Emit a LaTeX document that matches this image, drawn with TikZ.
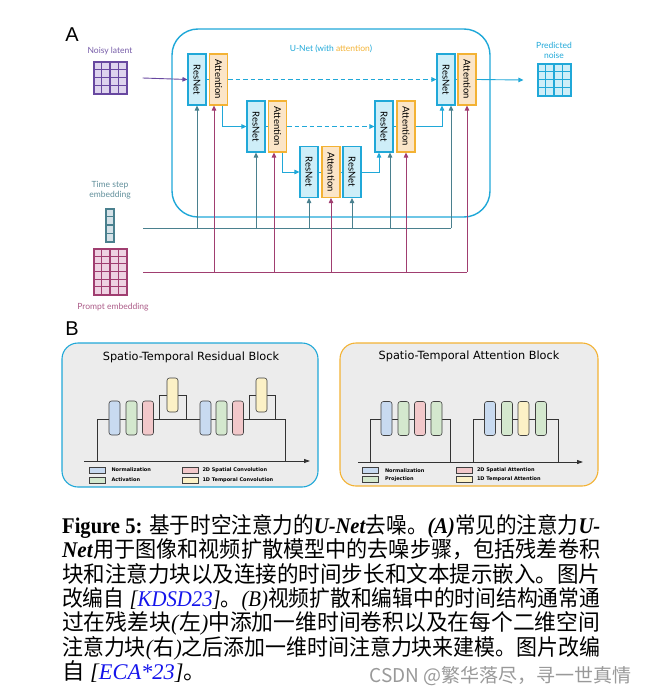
\documentclass[tikz,border=0pt]{standalone}
\usepackage{fontspec}
\setmainfont{Liberation Serif}
\newfontfamily\cjk{Noto Sans CJK SC}
\newfontfamily\latofont{Lato}
\newfontfamily\dejavu{DejaVu Sans}
\newfontfamily\panelfont{Liberation Sans}
\usetikzlibrary{arrows.meta,positioning,calc}
\definecolor{unetC}{RGB}{32,168,216}
\definecolor{resF}{RGB}{206,238,248}
\definecolor{attO}{RGB}{243,178,52}
\definecolor{attF}{RGB}{251,229,200}
\definecolor{latP}{RGB}{104,72,160}
\definecolor{latF}{RGB}{222,212,238}
\definecolor{latT}{RGB}{118,92,168}
\definecolor{timeT}{RGB}{74,128,142}
\definecolor{timeF}{RGB}{214,226,232}
\definecolor{timeL}{RGB}{96,142,154}
\definecolor{promM}{RGB}{160,62,112}
\definecolor{promF}{RGB}{238,210,226}
\definecolor{promL}{RGB}{172,92,136}
\definecolor{normB}{RGB}{200,218,240}
\definecolor{actG}{RGB}{212,232,206}
\definecolor{spaR}{RGB}{242,200,202}
\definecolor{tmpY}{RGB}{252,241,198}
\definecolor{panelG}{RGB}{236,236,236}
\definecolor{citeB}{RGB}{20,20,235}
\newcommand\zh[1]{{\cjk #1}}
\newcommand\capfit[1]{\resizebox{538pt}{\height}{#1}}

\begin{document}
\begin{tikzpicture}[x=1pt, y=-1pt, >={Triangle[length=5pt,width=4.5pt]},
  lbl/.style={font=\latofont\fontsize{8.5}{10}\selectfont, inner sep=0pt, align=center},
  resbox/.style={draw=unetC, fill=resF, line width=1.1pt, minimum width=18pt,
    minimum height=51pt, inner sep=0pt, font=\latofont\fontsize{9.5}{9.5}\selectfont},
  attbox/.style={resbox, draw=attO, fill=attF},
  gridbox/.style={line width=1.1pt, inner sep=0pt},
  flow/.style={->, unetC, line width=0.9pt},
  skipflow/.style={flow, line width=1pt, dash pattern=on 4.5pt off 3pt},
  tcond/.style={timeT, line width=0.9pt},
  pcond/.style={promM, line width=0.9pt},
  panel/.style={fill=panelG, line width=1.1pt, rounded corners=16pt, inner sep=0pt},
  wire/.style={black!80, line width=0.8pt},
  bbox/.style={draw=black!75, line width=0.6pt, rounded corners=2.5pt,
    minimum width=11pt, minimum height=34pt, inner sep=0pt},
  legkey/.style={draw=black!75, line width=0.6pt, minimum width=16pt,
    minimum height=6pt, inner sep=0pt},
  keytxt/.style={font=\dejavu\bfseries\fontsize{5}{6}\selectfont, inner sep=0pt, right=6pt of #1},
  capline/.style={anchor=base west, inner sep=0pt, font=\fontsize{22.4}{24}\selectfont}
]
\useasboundingbox (0,0) rectangle (648,695);

% ---------- A: U-Net ----------
\node[font=\panelfont\fontsize{20}{20}\selectfont] (labA) at (72,35) {A};
\node[draw=unetC, line width=1.4pt, rounded corners=26pt, minimum width=318pt,
  minimum height=188pt, inner sep=0pt] (unet) at (331,123) {};
\node[lbl, text=unetC] (unettitle) at (331,49) {U-Net (with \textcolor{attO}{attention})};

% down path
\node[resbox] (resD1) at (197,79.5) {\rotatebox{-90}{ResNet}};
\node[attbox] (attD1) at (218.5,79.5) {\rotatebox{-90}{Attention}};
\node[resbox] (resD2) at (256,126.5) {\rotatebox{-90}{ResNet}};
\node[attbox] (attD2) at (277.5,126.5) {\rotatebox{-90}{Attention}};
% middle
\node[resbox] (resM1) at (309,172) {\rotatebox{-90}{ResNet}};
\node[attbox] (attM) at (331,172) {\rotatebox{-90}{Attention}};
\node[resbox] (resM2) at (352,172) {\rotatebox{-90}{ResNet}};
% up path
\node[resbox] (resU2) at (384,126.5) {\rotatebox{-90}{ResNet}};
\node[attbox] (attU2) at (406,126.5) {\rotatebox{-90}{Attention}};
\node[resbox] (resU1) at (446,79.5) {\rotatebox{-90}{ResNet}};
\node[attbox] (attU1) at (467,79.5) {\rotatebox{-90}{Attention}};

% inputs and output
\node[lbl, text=latT] (noisylbl) at (110,51) {Noisy latent};
\node[gridbox, draw=latP, fill=latF, minimum width=33pt, minimum height=32pt] (noisy) at (110.5,78) {};
\foreach \k in {1,2,3} {
  \draw[latP, line width=1.1pt] ($(noisy.north west)+(\k*8.25,0)$) -- ($(noisy.south west)+(\k*8.25,0)$);
  \draw[latP, line width=1.1pt] ($(noisy.north west)+(0,\k*8)$) -- ($(noisy.north east)+(0,\k*8)$);
}
\node[lbl, text=unetC] (pnoiselbl) at (554,50) {Predicted\\noise};
\node[gridbox, draw=unetC, fill=resF, minimum width=33pt, minimum height=32pt] (pnoise) at (554.5,80) {};
\foreach \k in {1,2,3} {
  \draw[unetC, line width=1.1pt] ($(pnoise.north west)+(\k*8.25,0)$) -- ($(pnoise.south west)+(\k*8.25,0)$);
  \draw[unetC, line width=1.1pt] ($(pnoise.north west)+(0,\k*8)$) -- ($(pnoise.north east)+(0,\k*8)$);
}
\node[lbl, text=timeL] (tsteplbl) at (110,190.5) {Time step\\embedding};
\node[gridbox, draw=timeT, fill=timeF, minimum width=8pt, minimum height=33pt] (tstep) at (110,225.5) {};
\foreach \k in {1,2,3}
  \draw[timeT, line width=1.1pt] ($(tstep.north west)+(0,\k*8.25)$) -- ($(tstep.north east)+(0,\k*8.25)$);
\node[gridbox, draw=promM, fill=promF, minimum width=33pt, minimum height=46pt] (prompt) at (110.5,272) {};
\foreach \k in {1,2,3}
  \draw[promM, line width=1.1pt] ($(prompt.north west)+(\k*8.25,0)$) -- ($(prompt.south west)+(\k*8.25,0)$);
\foreach \k in {1,...,5}
  \draw[promM, line width=1.1pt] ($(prompt.north west)+(0,\k*7.67)$) -- ($(prompt.north east)+(0,\k*7.67)$);
\node[lbl, text=promL] (promptlbl) at (113,307) {Prompt embedding};

% main flow
\draw[->, latP, line width=0.9pt] ([xshift=15pt]noisy.east) -- (resD1.west);
\draw[unetC, line width=0.9pt] (resD1) -- (attD1);
\draw[unetC, line width=0.9pt] (resD2) -- (attD2);
\draw[unetC, line width=0.9pt] (resM1) -- (attM) -- (resM2);
\draw[unetC, line width=0.9pt] (resU2) -- (attU2);
\draw[unetC, line width=0.9pt] (resU1) -- (attU1);
\draw[flow] ([xshift=3.5pt]attD1.south) |- (resD2.west);
\draw[flow] ([xshift=4.5pt]attD2.south) |- (resM1.west);
\draw[flow] (resM2.east) -| ([xshift=-5pt]resU2.south);
\draw[flow] (attU2.east) -| ([xshift=-4pt]resU1.south);
\draw[skipflow] (attD1) -- (resU1);
\draw[skipflow] (attD2) -- (resU2);
\draw[flow] (attU1.east) -- ([xshift=-14pt]pnoise.west);

% conditioning
\coordinate (tbus) at (143,228);
\coordinate (pbus) at (143,272);
\draw[tcond] (tbus) -- ([xshift=5pt]resU1.south |- tbus);
\foreach \n/\dx in {resD1/0, resD2/0, resM1/0, resM2/0, resU2/6, resU1/5}
  \draw[tcond, ->] ([xshift=\dx pt]\n.south |- tbus) -- ([xshift=\dx pt]\n.south);
\draw[pcond] (pbus) -- (attU1.south |- pbus);
\foreach \n/\dx in {attD1/-4.5, attD2/-3.5, attM/0, attU2/0, attU1/0}
  \draw[pcond, ->] ([xshift=\dx pt]\n.south |- pbus) -- ([xshift=\dx pt]\n.south);

% ---------- B: blocks ----------
\node[font=\panelfont\fontsize{20}{20}\selectfont] (labB) at (72,329) {B};

% residual block panel
\node[panel, draw=unetC, minimum width=256pt, minimum height=144pt] (respanel) at (190,415) {};
\node[font=\dejavu\fontsize{11.3}{12}\selectfont, inner sep=0pt] (restitle) at (191,357) {Spatio-Temporal Residual Block};
\draw[wire, ->, >={Triangle[length=6pt,width=4pt]}] (84,461) -- (310,461);
\draw[wire] (97,461) |- (285,419) -- (285,461);
\draw[wire] (159,419) |- (186,395) -- (186,419);
\draw[wire] (249,419) |- (275,395) -- (275,419);
\node[bbox, fill=normB] (rn1) at (114.5,418) {};
\node[bbox, fill=actG] (ra1) at (131.5,418) {};
\node[bbox, fill=spaR] (rs1) at (148,418) {};
\node[bbox, fill=tmpY] (rt1) at (172.5,395) {};
\node[bbox, fill=normB] (rn2) at (205.5,418) {};
\node[bbox, fill=actG] (ra2) at (221.5,418) {};
\node[bbox, fill=spaR] (rs2) at (238,418) {};
\node[bbox, fill=tmpY] (rt2) at (261.5,395) {};
\node[legkey, fill=normB] (rkN) at (97,470) {};
\node[legkey, fill=actG] (rkA) at (97,480) {};
\node[legkey, fill=spaR] (rkS) at (190,470) {};
\node[legkey, fill=tmpY] (rkT) at (190,480) {};
\node[keytxt=rkN] {Normalization};
\node[keytxt=rkA] {Activation};
\node[keytxt=rkS, right=4pt of rkS] {2D Spatial Convolution};
\node[keytxt=rkT, right=4pt of rkT] {1D Temporal Convolution};

% attention block panel
\node[panel, draw=attO, minimum width=258pt, minimum height=143pt] (attpanel) at (469,414.5) {};
\node[font=\dejavu\fontsize{11.3}{12}\selectfont, inner sep=0pt] (atttitle) at (469,356) {Spatio-Temporal Attention Block};
\draw[wire, ->, >={Triangle[length=6pt,width=4pt]}] (358,462) -- (583,462);
\draw[wire] (370,462) |- (450,419) -- (450,462);
\draw[wire] (473,462) |- (558,419) -- (558,462);
\node[bbox, fill=normB] (an1) at (386.5,418.5) {};
\node[bbox, fill=actG] (ap1) at (403.5,418.5) {};
\node[bbox, fill=spaR] (as1) at (420,418.5) {};
\node[bbox, fill=actG] (aq1) at (436.5,418.5) {};
\node[bbox, fill=normB] (an2) at (490,418.5) {};
\node[bbox, fill=actG] (ap2) at (507,418.5) {};
\node[bbox, fill=tmpY] (at2) at (523.5,418.5) {};
\node[bbox, fill=actG] (aq2) at (541,418.5) {};
\node[legkey, fill=normB] (akN) at (370.5,470.5) {};
\node[legkey, fill=actG] (akP) at (370.5,479.5) {};
\node[legkey, fill=spaR] (akS) at (464.5,470.5) {};
\node[legkey, fill=tmpY] (akT) at (464.5,479.5) {};
\node[keytxt=akN] {Normalization};
\node[keytxt=akP] {Projection};
\node[keytxt=akS, right=4pt of akS] {2D Spatial Attention};
\node[keytxt=akT, right=4pt of akT] {1D Temporal Attention};

% ---------- caption ----------
\node[capline] (cap1) at (62,533) {\capfit{\textbf{Figure 5:} \zh{基于时空注意力的}\textbf{\textit{U-Net}}\zh{去噪。}\textbf{\textit{(A)}}\zh{常见的注意力}\textbf{\textit{U-}}}};
\node[capline] (cap2) at (62,557.5) {\capfit{\textbf{\textit{Net}}\zh{用于图像和视频扩散模型中的去噪步骤，包括残差卷积}}};
\node[capline] (cap3) at (62,582) {\capfit{\zh{块和注意力块以及连接的时间步长和文本提示嵌入。图片}}};
\node[capline] (cap4) at (62,606) {\capfit{\zh{改编自} \textit{[\textcolor{citeB}{KDSD23}]}\zh{。}\textit{(B)}\zh{视频扩散和编辑中的时间结构通常通}}};
\node[capline] (cap5) at (62,630.5) {\capfit{\zh{过在残差块}\textit{(}\zh{左}\textit{)}\zh{中添加一维时间卷积以及在每个二维空间}}};
\node[capline] (cap6) at (62,655) {\capfit{\zh{注意力块}\textit{(}\zh{右}\textit{)}\zh{之后添加一维时间注意力块来建模。图片改编}}};
\node[capline] (cap7) at (62,679) {\zh{自} \textit{[\textcolor{citeB}{ECA*23}]}\zh{。}};
\node[anchor=base east, inner sep=0pt, text=black!40, font=\cjk\fontsize{19}{20}\selectfont] (mark) at (632,682) {CSDN @繁华落尽，寻一世真情};
\end{tikzpicture}
\end{document}
